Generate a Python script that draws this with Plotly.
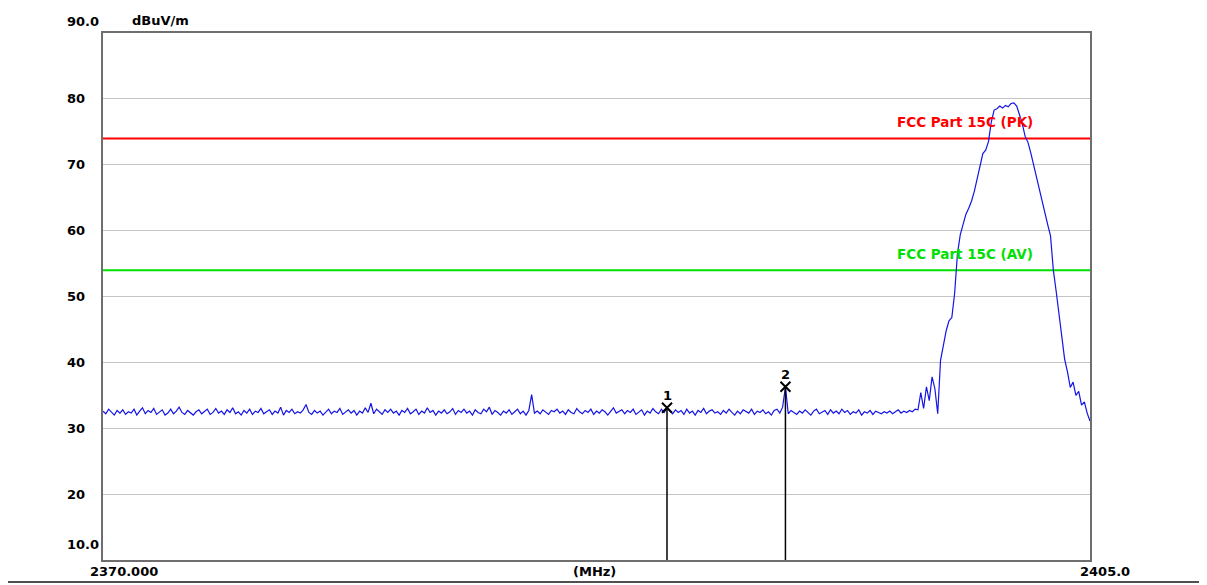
import plotly.graph_objects as go

# ---------------- data ----------------
FREQ_START = 2370.0   # MHz
FREQ_STOP = 2405.0    # MHz
FREQ_STEP = 0.1       # MHz

# measured level, 2370.0 .. 2398.8 MHz (noise floor), dBuV/m
floor_levels = [
    32.6, 32.2, 32.9, 32.4, 32.0, 32.7, 32.3, 32.8, 32.1, 32.5,
    32.3, 32.9, 32.0, 32.6, 33.1, 32.2, 32.7, 32.4, 33.0, 32.1,
    32.5, 32.8, 32.0, 32.3, 32.9, 32.2, 32.6, 33.2, 32.4, 32.1,
    32.7, 32.3, 32.0, 32.5, 32.8, 32.2, 32.6, 32.9, 32.1, 32.4,
    33.0, 32.3, 32.6, 32.1, 32.8, 32.4, 33.1, 32.2, 32.5, 32.0,
    32.7, 32.3, 32.9, 32.1, 32.6, 32.4, 33.0, 32.2, 32.5, 32.8,
    32.1, 32.6, 32.3, 33.2, 32.0, 32.7, 32.4, 32.9, 32.2, 32.5,
    32.3, 32.8, 33.6, 32.4, 32.1, 32.7, 32.3, 32.6, 32.0, 32.5,
    32.9, 32.2, 32.6, 32.4, 33.0, 32.1, 32.5, 32.8, 32.3, 32.7,
    32.0, 32.6, 32.3, 33.1, 32.4, 33.8, 32.2, 32.9, 32.5, 32.1,
    32.8, 32.4, 32.9, 32.3, 32.6, 32.0, 32.7, 32.4, 33.0, 32.2,
    32.5, 32.9, 32.1, 32.6, 32.3, 33.1, 32.4, 32.7, 32.0, 32.6,
    32.3, 32.8, 32.2, 32.5, 33.0, 32.1, 32.7, 32.4, 32.9, 32.3,
    32.6, 32.0, 32.8, 32.4, 32.2, 32.9, 32.5, 33.2, 32.1, 32.7,
    32.4, 32.0, 32.6, 32.3, 32.8, 32.1, 32.5, 32.9, 32.2, 32.6,
    32.0, 32.7, 35.1, 32.3, 32.6, 32.2, 32.8, 32.4, 32.1, 32.7,
    32.5, 32.9, 32.3, 32.6, 32.1, 32.8, 32.4, 32.2, 33.0, 32.5,
    32.2, 32.7, 32.4, 32.9, 32.1, 32.6, 32.3, 32.8, 32.5, 32.0,
    32.6, 33.1, 32.3, 32.5, 32.8, 32.2, 32.7, 32.4, 32.9, 32.1,
    32.4, 32.8, 32.0, 32.6, 32.3, 33.0, 32.5, 32.2, 32.9, 32.4,
    33.1, 32.6, 32.2, 32.8, 32.4, 32.7, 32.1, 32.9, 32.3, 32.6,
    32.0, 32.7, 32.4, 33.0, 32.2, 32.6, 32.8, 32.3, 32.5, 32.1,
    32.7, 32.3, 32.9, 32.4, 32.0, 32.6, 32.2, 32.8, 32.5, 32.3,
    32.9, 32.1, 32.6, 32.4, 32.8, 32.2, 32.5, 32.0, 32.7, 32.9,
    32.3, 33.2, 36.3, 32.2, 32.7, 32.4, 32.1, 32.6, 32.3, 32.8,
    32.4, 32.0, 32.6, 32.9, 32.2, 32.5, 32.7, 32.1, 32.8, 32.3,
    32.6, 32.2, 32.9, 32.4, 32.7, 32.1, 32.5, 32.3, 32.8, 32.0,
    32.5, 32.3, 32.7, 32.1, 32.6, 32.4, 32.2, 32.5, 32.3, 32.6,
    32.2, 32.5, 32.8, 32.3, 32.6, 32.4, 32.7, 32.5, 32.9,
]

# measured level, 2398.9 .. 2405.0 MHz (carrier), dBuV/m
band_levels = [
    32.8, 35.4, 33.0, 36.3, 34.2, 37.8, 36.0, 32.2,
    40.3, 42.5, 44.8, 46.3, 46.8, 50.5, 56.5, 59.4, 60.8, 62.5,
    63.4, 64.5, 66.0, 67.8, 69.8, 71.7, 72.2, 73.5, 76.5, 78.3,
    78.5, 78.9, 78.6, 79.0, 78.8, 79.3, 79.4, 78.9, 77.6, 76.2,
    74.3, 73.4, 71.8, 69.9, 68.0, 66.6, 64.6, 62.8, 60.9, 59.2,
    54.0, 50.8, 47.4, 43.6, 40.5, 38.6, 36.2, 37.0, 35.0, 35.6,
    33.5, 34.0, 32.3, 31.1,
]

limit_names = ["FCC Part 15C (PK)", "FCC Part 15C (AV)"]
limit_levels = [74.0, 54.0]
limit_colors = ["#ff0000", "#00e000"]

marker_ids = ["1", "2"]
marker_freqs = [2390.0, 2394.2]
marker_levels = [33.1, 36.3]

y_min, y_max = 10.0, 90.0
y_tick_vals = [90, 80, 70, 60, 50, 40, 30, 20, 10]
y_tick_text = ["90.0", "80", "70", "60", "50", "40", "30", "20", "10.0"]
y_unit = "dBuV/m"
x_left_label = "2370.000"
x_right_label = "2405.0"
x_unit = "(MHz)"

# ---------------- figure ----------------
levels = floor_levels + band_levels
n_pts = len(levels)
freqs = [round(FREQ_START + i * FREQ_STEP, 1) for i in range(n_pts)]

fig = go.Figure()

# limit lines
for name, lvl, col in zip(limit_names, limit_levels, limit_colors):
    fig.add_trace(go.Scatter(x=[FREQ_START, FREQ_STOP], y=[lvl, lvl], mode="lines",
                             line=dict(color=col, width=2), hoverinfo="skip", showlegend=False))

# spectrum trace
fig.add_trace(go.Scatter(x=freqs, y=levels, mode="lines",
                         line=dict(color="#1414e6", width=1.2), showlegend=False))

# marker drop lines
for f, lvl in zip(marker_freqs, marker_levels):
    fig.add_trace(go.Scatter(x=[f, f], y=[lvl, y_min], mode="lines",
                             line=dict(color="#000000", width=1.5), showlegend=False, hoverinfo="skip"))

# marker crosses
fig.add_trace(go.Scatter(x=marker_freqs, y=marker_levels, mode="markers",
                         marker=dict(symbol="x-thin", size=10, line=dict(color="#000000", width=2)),
                         showlegend=False))

AX_FONT = dict(family="DejaVu Sans", size=13, color="#000000")
annotations = []

for mid, f, lvl in zip(marker_ids, marker_freqs, marker_levels):
    annotations.append(dict(x=f, y=lvl, xref="x", yref="y", text="<b>%s</b>" % mid, showarrow=False,
                            yshift=12, font=dict(family="DejaVu Sans", size=13, color="#000000")))

for name, lvl, col in zip(limit_names, limit_levels, limit_colors):
    annotations.append(dict(x=0.944, y=lvl, xref="paper", yref="y", text="<b>%s</b>" % name,
                            showarrow=False, xanchor="right", yanchor="middle", yshift=16,
                            font=dict(family="DejaVu Sans", size=13.5, color=col)))

for v, t in zip(y_tick_vals, y_tick_text):
    shift = 0
    if v == y_max:
        shift = 12
    elif v == y_min:
        shift = 16
    annotations.append(dict(x=-0.0385, y=v, xref="paper", yref="y", text="<b>%s</b>" % t,
                            showarrow=False, xanchor="left", yanchor="middle", yshift=shift,
                            font=AX_FONT))

annotations.append(dict(x=0.0274, y=1.0, xref="paper", yref="paper", text="<b>%s</b>" % y_unit,
                        showarrow=False, xanchor="left", yanchor="middle", yshift=13, font=AX_FONT))
annotations.append(dict(x=-0.0152, y=0, xref="paper", yref="paper", text="<b>%s</b>" % x_left_label,
                        showarrow=False, xanchor="left", yanchor="middle", yshift=-11, font=AX_FONT))
annotations.append(dict(x=0.4975, y=0, xref="paper", yref="paper", text="<b>%s</b>" % x_unit,
                        showarrow=False, xanchor="center", yanchor="middle", yshift=-11, font=AX_FONT))
annotations.append(dict(x=0.9875, y=0, xref="paper", yref="paper", text="<b>%s</b>" % x_right_label,
                        showarrow=False, xanchor="left", yanchor="middle", yshift=-11, font=AX_FONT))

fig.update_layout(
    width=1199, height=577,
    margin=dict(l=95, r=117, t=25, b=25),
    paper_bgcolor="#ffffff", plot_bgcolor="#ffffff",
    showlegend=False,
    annotations=annotations,
    shapes=[dict(type="line", xref="paper", yref="paper", x0=-0.2, x1=1.2, y0=-0.0417, y1=-0.0417,
                 line=dict(color="#505050", width=2))],
    xaxis=dict(range=[FREQ_START, FREQ_STOP], showgrid=False, zeroline=False,
               showticklabels=False, ticks="", showline=True, mirror=True,
               linecolor="#6e6e6e", linewidth=2),
    yaxis=dict(range=[y_min, y_max], tickvals=[20, 30, 40, 50, 60, 70, 80], showgrid=True,
               gridcolor="#c4c4c4", gridwidth=1, zeroline=False, showticklabels=False, ticks="",
               showline=True, mirror=True, linecolor="#6e6e6e", linewidth=2),
)

fig.write_html("out.html")
